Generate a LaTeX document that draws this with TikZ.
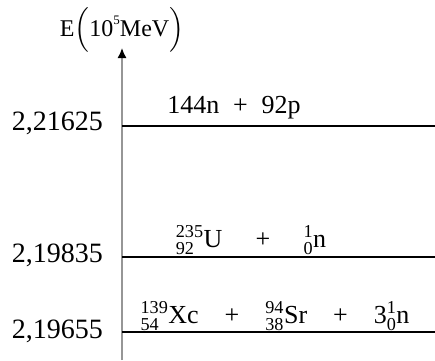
\documentclass[tikz,border=0pt]{standalone}
\usepackage{amsmath}
\usepackage{fontspec}
\setmainfont{Liberation Serif}
\usetikzlibrary{arrows.meta}
\definecolor{AxisGray}{RGB}{150,150,150}
\newcommand{\nuc}[3]{\ensuremath{{}^{\text{#1}}_{\text{#2}}}#3}

\begin{document}
\begin{tikzpicture}[x=1pt, y=-1pt,
    level/.style={line width=2pt, draw=black},
    axis/.style={line width=1.5pt, draw=AxisGray, -{Latex[length=10pt, width=9pt, black]}},
    value/.style={anchor=east, inner sep=0pt, font=\fontsize{28}{30}\selectfont},
    state/.style={anchor=base, inner sep=0pt, font=\fontsize{26}{28}\selectfont}
]
    \useasboundingbox (0,0) rectangle (435,360);

    \coordinate (axbot) at (122,360);
    \coordinate (axtop) at (122,48);
    \draw [axis] (axbot) -- (axtop);
    \node (elabel) at (122,30) [inner sep=0pt, font=\fontsize{24}{26}\selectfont] {E$\Bigl($10\raisebox{0.5em}{\fontsize{13}{13}\selectfont 5}MeV$\Bigr)$};

    \coordinate (lvlA0) at (122,126);
    \coordinate (lvlA1) at (435,126);
    \coordinate (lvlB0) at (122,257);
    \coordinate (lvlB1) at (435,257);
    \coordinate (lvlC0) at (122,332);
    \coordinate (lvlC1) at (435,332);
    \draw [level] (lvlA0) -- (lvlA1);
    \draw [level] (lvlB0) -- (lvlB1);
    \draw [level] (lvlC0) -- (lvlC1);

    \node (valA) at (103,123) [value] {2,21625};
    \node (valB) at (103,255) [value] {2,19835};
    \node (valC) at (103,331) [value] {2,19655};

    \node (nucl) at (234,113) [state] {144n \;+\; 92p};
    \node (fuel) at (251,247) [state] {\nuc{235}{92}{U}\quad\;+\;\quad\nuc{1}{0}{n}};
    \node (prod) at (275,323) [state] {\nuc{139}{54}{Xc}\quad+\quad\nuc{94}{38}{Sr}\quad+\quad3\nuc{1}{0}{n}};
\end{tikzpicture}
\end{document}
